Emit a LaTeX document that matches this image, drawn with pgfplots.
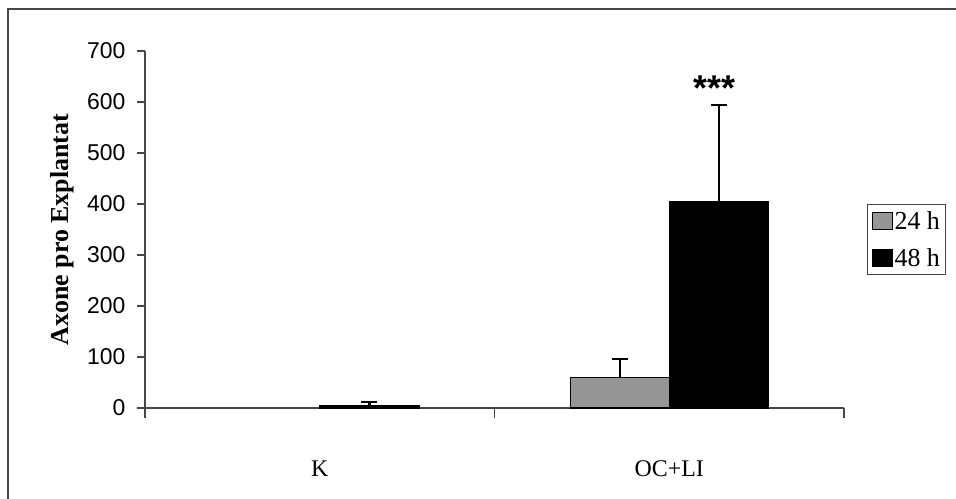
\documentclass[border=0pt]{standalone}
\usepackage{pgfplots}
\pgfplotsset{compat=1.18}
\usepackage{fontspec}
\setmainfont{Liberation Serif}
\newfontfamily\arial{Liberation Sans}
\definecolor{bargray}{RGB}{150,150,150}
\definecolor{axgray}{RGB}{70,70,70}
\begin{document}
\begin{tikzpicture}
\useasboundingbox (0,0) rectangle (956bp,499bp);
\draw[axgray, line width=1.6bp] (8bp,-20bp) -- (8bp,490bp) -- (1000bp,490bp);
\begin{axis}[
  at={(145bp,91bp)}, anchor=south west,
  scale only axis, width=699bp, height=357bp,
  ybar=0pt, bar width=99bp,
  xmin=-0.5, xmax=1.5, ymin=0, ymax=700,
  axis lines*=left,
  axis line style={axgray, line width=1.2bp},
  xtick={0,1}, xticklabels={K, OC+LI},
  major x tick style={draw=none},
  minor xtick={-0.5,0.5,1.5},
  minor x tick style={axgray, line width=1.2bp},
  minor tick length=10bp,
  ytick={0,100,...,700},
  major tick length=8bp,
  y tick style={axgray, line width=1.2bp},
  tick align=outside,
  /pgf/number format/assume math mode=true,
  yticklabel style={font=\arial\fontsize{23}{27}\selectfont, xshift=-8bp},
  xticklabel style={font=\fontsize{24}{28}\selectfont, anchor=center, yshift=-53bp},
  ylabel={\textbf{Axone pro Explantat}},
  ylabel style={font=\fontsize{26}{30}\selectfont, at={(axis description cs:-0.1187,0.5)}, anchor=center},
  legend style={at={(1.033,0.3725)}, anchor=south west, draw=axgray, line width=1bp,
    font=\fontsize{26}{30}\selectfont, row sep=13bp, inner ysep=5bp, inner xsep=4bp, cells={anchor=west}},
  legend image code/.code={\draw[#1, line width=1bp] (0bp,-8.5bp) rectangle (20bp,8.5bp);},
  clip=false,
]
\addplot[fill=bargray, draw=black, line width=1.5bp,
  error bars/.cd, y dir=plus, y explicit,
  error bar style={line width=2.5bp, black},
  error mark options={rotate=90, mark size=8bp, line width=2.5bp, black}]
  coordinates {(1,60) +- (0,36)};
\addplot[fill=black, draw=black, line width=1.5bp,
  error bars/.cd, y dir=plus, y explicit,
  error bar style={line width=2.5bp, black},
  error mark options={rotate=90, mark size=8bp, line width=2.5bp, black}]
  coordinates {(0,5) +- (0,7) (1,405) +- (0,189)};
\legend{24 h, 48 h}
\node[font=\arial\bfseries\fontsize{36}{40}\selectfont] at ([xshift=45bp]axis cs:1,627) {***};
\end{axis}
\end{tikzpicture}
\end{document}
